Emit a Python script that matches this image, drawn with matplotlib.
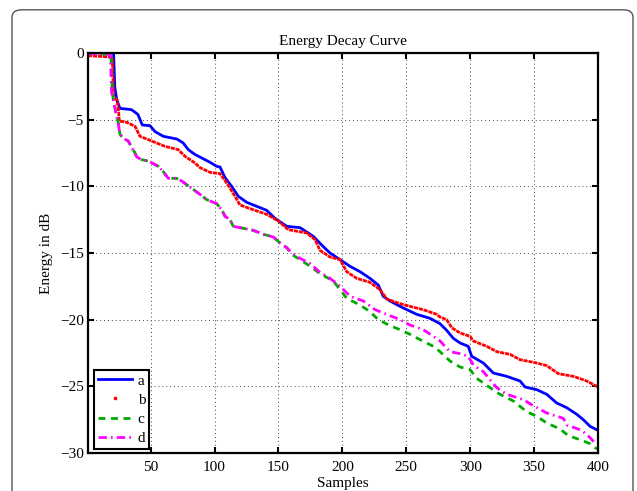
import matplotlib

matplotlib.use("Agg")
import matplotlib.pyplot as plt
from matplotlib.lines import Line2D
from matplotlib.patches import FancyBboxPatch

# values (sample index, energy in dB)
a_x = [1, 21, 22, 23.5, 26, 35, 40, 43.5, 49.5, 53.5, 60, 70.5, 75.5, 79.5, 84.5,
       92.5, 96.5, 101.7, 104.3, 108.2, 113.4, 118.6, 125.2, 140.8, 147.3, 156.5,
       166.9, 177.3, 183.8, 190.3, 198.2, 206, 213.8, 221.6, 228.1, 232, 237.3,
       245.1, 250.4, 258.2, 268.6, 276.4, 281.6, 286.8, 292.1, 298.5, 301.2, 310.3,
       318.1, 328.6, 339, 342.9, 352.1, 359.9, 367.7, 375.5, 383.4, 388.5, 393.8, 400]
a_y = [0, 0, -2.6, -3.5, -4.15, -4.25, -4.6, -5.4, -5.45, -5.9, -6.25, -6.45, -6.75,
       -7.25, -7.6, -8.0, -8.2, -8.5, -8.55, -9.35, -10.0, -10.75, -11.2, -11.8,
       -12.4, -13.0, -13.1, -13.75, -14.4, -15.0, -15.5, -16.0, -16.4, -16.9, -17.4,
       -18.25, -18.6, -19.0, -19.25, -19.6, -19.9, -20.3, -20.8, -21.4, -21.75, -22.0,
       -22.75, -23.25, -24.0, -24.25, -24.6, -25.05, -25.25, -25.6, -26.25, -26.6,
       -27.1, -27.5, -28.0, -28.3]

b_x = [1, 18, 20, 21, 23.5, 24.7, 25.5, 31.3, 37.8, 41.7, 50.8, 61.2, 71.6, 76.9,
       84.7, 88.6, 96.5, 104.3, 109.5, 116, 119.9, 130.1, 140.8, 149.9, 157.7, 172.1,
       178.6, 182.5, 190.3, 198.2, 203.4, 211.2, 221.6, 229.5, 234.7, 245.1, 252.9,
       263.3, 273.8, 276.4, 281.6, 285.6, 292.1, 299.9, 302.5, 313, 320.8, 331.2,
       339, 352.1, 359.9, 369, 380.7, 391.2, 399, 400]
b_y = [-0.2, -0.3, -0.35, -3.25, -3.5, -4.1, -5.1, -5.2, -5.5, -6.25, -6.6, -7.0,
       -7.25, -7.75, -8.25, -8.6, -8.95, -9.05, -9.75, -10.75, -11.4, -11.75, -12.1,
       -12.6, -13.25, -13.5, -14.0, -14.8, -15.3, -15.5, -16.4, -16.9, -17.2, -17.75,
       -18.45, -18.8, -19.0, -19.25, -19.6, -19.8, -20.0, -20.6, -21.0, -21.25, -21.6,
       -22.0, -22.4, -22.6, -23.0, -23.25, -23.45, -24.05, -24.25, -24.6, -25.0, -25.05]

c_x = [1, 19, 20, 21.6, 23.5, 24.5, 26, 28.6, 32.5, 36.4, 39.1, 43, 48.2, 56, 59.9,
       63.8, 70.4, 74.3, 80, 88.6, 93.9, 101.7, 105.6, 108.2, 112.1, 114.7, 119.9,
       130.3, 138.2, 146, 151.2, 156.5, 160.4, 166.9, 174.9, 182.5, 192.9, 198.2,
       203.4, 213.8, 221.6, 228.1, 237.3, 245.1, 252.9, 260.8, 271.2, 276.4, 284.2,
       292.1, 299.9, 305.1, 315.5, 323.3, 333.8, 344.2, 352.1, 359.9, 370.3, 376.8,
       385.9, 393.8, 397.7, 400]
c_y = [-0.05, -0.1, -3.0, -3.9, -4.75, -5.1, -6.1, -6.4, -6.6, -7.25, -7.75, -8.0,
       -8.1, -8.5, -8.9, -9.4, -9.4, -9.6, -10.0, -10.6, -11.0, -11.3, -11.75, -12.25,
       -12.5, -13.0, -13.1, -13.3, -13.6, -13.8, -14.25, -14.6, -15.1, -15.5, -16.0,
       -16.55, -17.1, -17.75, -18.4, -18.9, -19.4, -20.0, -20.45, -20.75, -21.1,
       -21.5, -22.0, -22.4, -23.1, -23.55, -23.75, -24.4, -25.1, -25.6, -26.1, -26.9,
       -27.25, -27.75, -28.2, -28.7, -29.0, -29.3, -29.6, -29.7]

d_x = [1, 18.5, 19.5, 21.6, 23.5, 24.5, 26, 28.6, 32.5, 36.4, 39.1, 43, 48.2, 56,
       59.9, 63.8, 70.4, 74.3, 80, 88.6, 93.9, 101.7, 105.6, 108.2, 112.1, 114.7,
       119.9, 130.3, 138.2, 146, 151.2, 156.5, 160.4, 166.9, 174.9, 182.5, 190.3,
       199.5, 206, 216.4, 225.6, 234.7, 245.1, 252.9, 263.3, 271.2, 276.4, 284.2,
       292.1, 298.5, 302.5, 310.3, 315.5, 320.8, 328.6, 341.6, 349.4, 359.9, 372.9,
       375.5, 385.9, 391.2, 397.7, 400]
d_y = [-0.05, -0.1, -3.0, -3.9, -4.8, -5.2, -6.1, -6.4, -6.6, -7.3, -7.8, -8.0,
       -8.1, -8.5, -8.9, -9.4, -9.4, -9.6, -10.0, -10.6, -11.0, -11.3, -11.75, -12.25,
       -12.5, -13.0, -13.1, -13.3, -13.6, -13.8, -14.25, -14.6, -15.0, -15.4, -15.8,
       -16.45, -16.9, -17.6, -18.25, -18.6, -19.25, -19.6, -20.0, -20.4, -20.75,
       -21.25, -21.6, -22.4, -22.55, -22.75, -23.4, -23.9, -24.5, -25.1, -25.6, -26.0,
       -26.45, -27.0, -27.4, -27.9, -28.25, -28.6, -29.25, -29.3]

labels = ["a", "b", "c", "d"]
x_ticks = [50, 100, 150, 200, 250, 300, 350, 400]
y_ticks = [-30, -25, -20, -15, -10, -5, 0]

plt.rcParams["font.family"] = ["Liberation Serif", "DejaVu Serif"]
plt.rcParams["font.size"] = 11

fig = plt.figure(figsize=(6.37, 4.91), dpi=100)
# rounded frame around the figure (as in the source document)
fig.patches.append(FancyBboxPatch((12 / 637, -0.1), 621 / 637, 1.08, boxstyle="round,pad=0,rounding_size=0.015",
                                  transform=fig.transFigure, fc="none", ec="#555555", lw=1.0))
ax = fig.add_axes([88 / 637, 1 - 453 / 491, 510 / 637, 400 / 491])

ax.plot(a_x, a_y, color="#0000ff", lw=2.0, ls="-")
ax.plot(b_x, b_y, color="#ff0000", lw=2.0, ls=(0, (1.5, 0.3)))
ax.plot(c_x, c_y, color="#00aa00", lw=2.0, ls=(0, (2.5, 2.0)))
ax.plot(d_x, d_y, color="#ff00ff", lw=2.0, ls=(0, (3.0, 1.5, 0.6, 1.5)))

ax.set_xlim(1, 400)
ax.set_ylim(-30, 0)
ax.set_xticks(x_ticks)
ax.set_yticks(y_ticks)
ax.grid(True, color="#444444", ls=(0, (1, 3)), lw=0.7)
ax.tick_params(direction="in", length=4, width=1.5, top=True, right=True, pad=3)
ax.tick_params(axis="x", pad=5.5)
for s in ax.spines.values():
    s.set_linewidth(1.6)

ax.set_title("Energy Decay Curve", fontsize=11, pad=6)
ax.set_xlabel("Samples", labelpad=2.5)
ax.set_ylabel("Energy in dB", labelpad=5)

handles = [
    Line2D([], [], color="#0000ff", lw=2.0, ls="-"),
    Line2D([], [], color="#ff0000", ls="none", marker="s", markersize=1.5),
    Line2D([], [], color="#00aa00", lw=2.0, ls=(0, (2.5, 2.0))),
    Line2D([], [], color="#ff00ff", lw=2.0, ls=(0, (3.0, 1.5, 0.6, 1.5))),
]
leg = ax.legend(handles, labels, loc="lower left", bbox_to_anchor=(0.012, 0.01), borderaxespad=0,
                fancybox=False, edgecolor="black", framealpha=1, handlelength=2.2,
                handletextpad=0.4, labelspacing=0.36, borderpad=0.25, fontsize=11)
leg.get_frame().set_linewidth(1.5)

fig.savefig("out.png", dpi=100)
